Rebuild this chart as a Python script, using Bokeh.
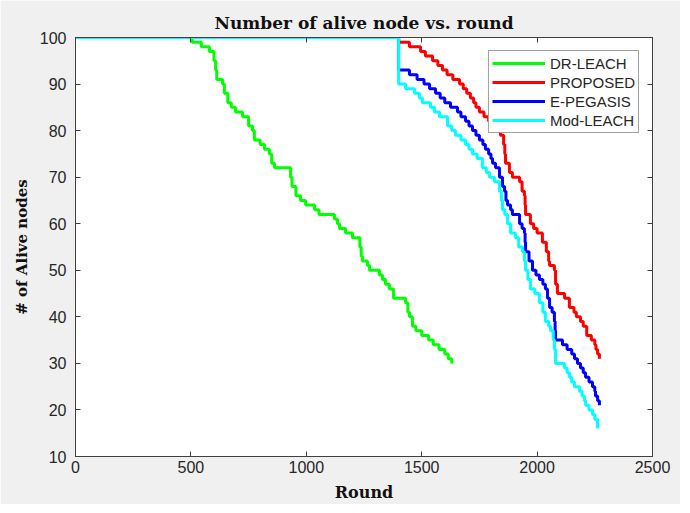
from bokeh.plotting import figure
from bokeh.models import Range1d, LinearAxis, FixedTicker
from bokeh.embed import file_html
from bokeh.resources import INLINE

# ---- data ----
dr_leach_round = [0, 505, 545, 580, 600, 607, 612, 637, 645, 660, 675, 693, 724, 750, 767, 775, 800, 819,
                  840, 850, 862, 932, 938, 955, 975, 997, 1036, 1055, 1122, 1135, 1144, 1170, 1200, 1232,
                  1238, 1243, 1265, 1274, 1317, 1330, 1343, 1360, 1378, 1430, 1440, 1447, 1460, 1475,
                  1500, 1530, 1550, 1575, 1600, 1615, 1630]
dr_leach_alive = [100, 99, 98, 97, 95, 93, 91, 90, 88, 86, 85, 84, 83, 81, 80, 78, 77, 76,
                  75, 73, 72, 70, 68, 66, 65, 64, 63, 62, 61, 60, 59, 58, 57, 55,
                  53, 52, 51, 50, 49, 48, 47, 46, 44, 43, 41, 40, 38, 37,
                  36, 35, 34, 33, 32, 31, 30]

proposed_round = [0, 1400, 1447, 1495, 1516, 1547, 1570, 1590, 1610, 1635, 1664, 1680, 1695, 1711, 1725,
                  1735, 1750, 1770, 1790, 1805, 1820, 1841, 1855, 1860, 1863, 1880, 1893, 1924, 1935,
                  1945, 1948, 1950, 1971, 1985, 2000, 2023, 2040, 2050, 2054, 2075, 2080, 2088, 2119,
                  2140, 2160, 2170, 2188, 2200, 2215, 2235, 2250, 2255, 2262, 2270]
proposed_alive = [100, 99, 98, 97, 96, 95, 94, 93, 92, 91, 90, 89, 88, 87, 86,
                  85, 84, 83, 82, 81, 80, 79, 77, 75, 73, 71, 70, 69, 67,
                  66, 64, 62, 60, 59, 58, 56, 54, 52, 51, 50, 47, 45, 44,
                  42, 41, 40, 39, 38, 36, 35, 34, 33, 32, 31]

epegasis_round = [0, 1400, 1447, 1480, 1510, 1534, 1560, 1580, 1600, 1625, 1655, 1670, 1690, 1705, 1720,
                  1735, 1750, 1765, 1776, 1790, 1800, 1807, 1820, 1837, 1850, 1859, 1865, 1872, 1885,
                  1893, 1924, 1935, 1945, 1948, 1950, 1965, 1980, 1995, 2010, 2025, 2036, 2045, 2054,
                  2065, 2075, 2078, 2080, 2110, 2130, 2150, 2162, 2175, 2188, 2200, 2210, 2225, 2240,
                  2250, 2253, 2262, 2270]
epegasis_alive = [100, 93, 92, 91, 90, 89, 88, 87, 86, 85, 84, 83, 82, 81, 80,
                  79, 78, 77, 76, 75, 74, 73, 72, 70, 68, 67, 65, 64, 63,
                  62, 60, 59, 58, 56, 54, 52, 50, 49, 48, 47, 46, 44, 42,
                  41, 39, 37, 35, 34, 33, 32, 31, 30, 29, 28, 27, 26, 25,
                  24, 23, 22, 21]

modleach_round = [0, 1400, 1430, 1469, 1490, 1503, 1538, 1555, 1577, 1612, 1630, 1646, 1670, 1690, 1705,
                  1720, 1740, 1763, 1780, 1794, 1815, 1837, 1845, 1850, 1860, 1872, 1885, 1906, 1920,
                  1937, 1945, 1950, 1960, 1971, 1990, 2010, 2025, 2036, 2050, 2058, 2070, 2075, 2080,
                  2119, 2130, 2140, 2150, 2162, 2184, 2195, 2205, 2210, 2225, 2240, 2250, 2262]
modleach_alive = [100, 90, 89, 88, 87, 86, 85, 84, 83, 81, 80, 79, 78, 77, 76,
                  75, 74, 72, 71, 70, 69, 67, 65, 63, 62, 60, 58, 57, 55,
                  54, 52, 50, 48, 46, 45, 43, 41, 39, 38, 37, 35, 33, 30,
                  29, 28, 27, 26, 25, 24, 23, 22, 21, 20, 19, 18, 16]

x_ticks = [0, 500, 1000, 1500, 2000, 2500]
y_ticks = [10, 20, 30, 40, 50, 60, 70, 80, 90, 100]

series = [
    ("DR-LEACH", dr_leach_round, dr_leach_alive, "#00ff00"),
    ("PROPOSED", proposed_round, proposed_alive, "#ff0000"),
    ("E-PEGASIS", epegasis_round, epegasis_alive, "#0000ff"),
    ("Mod-LEACH", modleach_round, modleach_alive, "#00ffff"),
]

AX = "#404040"
TICK_FONT = "Liberation Sans"
LABEL_FONT = "DejaVu Serif"

p = figure(width=680, height=504, output_backend="svg", toolbar_location=None,
           x_range=Range1d(0, 2500), y_range=Range1d(10, 100),
           min_border_left=75, min_border_right=28, min_border_top=37, min_border_bottom=48)

p.background_fill_color = "white"
p.border_fill_color = "#f0f0f0"
p.outline_line_color = AX
p.outline_line_width = 1
p.xgrid.visible = False
p.ygrid.visible = False

p.title.text = "Number of alive node vs. round"
p.title.align = "center"
p.title.text_font = LABEL_FONT
p.title.text_font_style = "bold"
p.title.text_font_size = "17px"
p.title.text_color = "#111111"

for name, xs, ys, col in series:
    p.step(x=xs, y=ys, mode="after", line_width=3, line_color=col, legend_label=name)

def style_axis(ax, ticks, show_labels=True):
    ax.ticker = FixedTicker(ticks=ticks)
    ax.axis_line_color = AX
    ax.major_tick_line_color = AX
    ax.major_tick_in = 5
    ax.major_tick_out = 0
    ax.minor_tick_line_color = None
    if show_labels:
        ax.major_label_text_font = TICK_FONT
        ax.major_label_text_font_size = "16px"
        ax.major_label_text_color = "#262626"
    else:
        ax.major_label_text_font_size = "0px"
        ax.major_label_text_color = None
        ax.major_label_standoff = 0

style_axis(p.xaxis[0], x_ticks)
style_axis(p.yaxis[0], y_ticks)
p.xaxis[0].major_label_standoff = 4
p.yaxis[0].major_label_standoff = 9

p.xaxis[0].axis_label = "Round"
p.yaxis[0].axis_label = "# of Alive nodes"
for ax in (p.xaxis[0], p.yaxis[0]):
    ax.axis_label_text_font = LABEL_FONT
    ax.axis_label_text_font_style = "bold"
    ax.axis_label_text_color = "#111111"
p.xaxis[0].axis_label_text_font_size = "16px"
p.yaxis[0].axis_label_text_font_size = "15px"
p.xaxis[0].axis_label_standoff = 7
p.yaxis[0].axis_label_standoff = 6

top_ax = LinearAxis()
right_ax = LinearAxis()
style_axis(top_ax, x_ticks, show_labels=False)
style_axis(right_ax, y_ticks, show_labels=False)
p.add_layout(top_ax, "above")
p.add_layout(right_ax, "right")

lg = p.legend[0]
lg.location = "top_right"
lg.margin = 13
lg.padding = 3
lg.spacing = 1
lg.label_height = 18
lg.glyph_height = 18
lg.glyph_width = 53
lg.label_standoff = 5
lg.label_text_font = TICK_FONT
lg.label_text_font_size = "15px"
lg.label_text_color = "#262626"
lg.border_line_color = AX
lg.border_line_width = 1
lg.background_fill_color = "white"
lg.background_fill_alpha = 1

open("out.html", "w").write(file_html(p, INLINE))
